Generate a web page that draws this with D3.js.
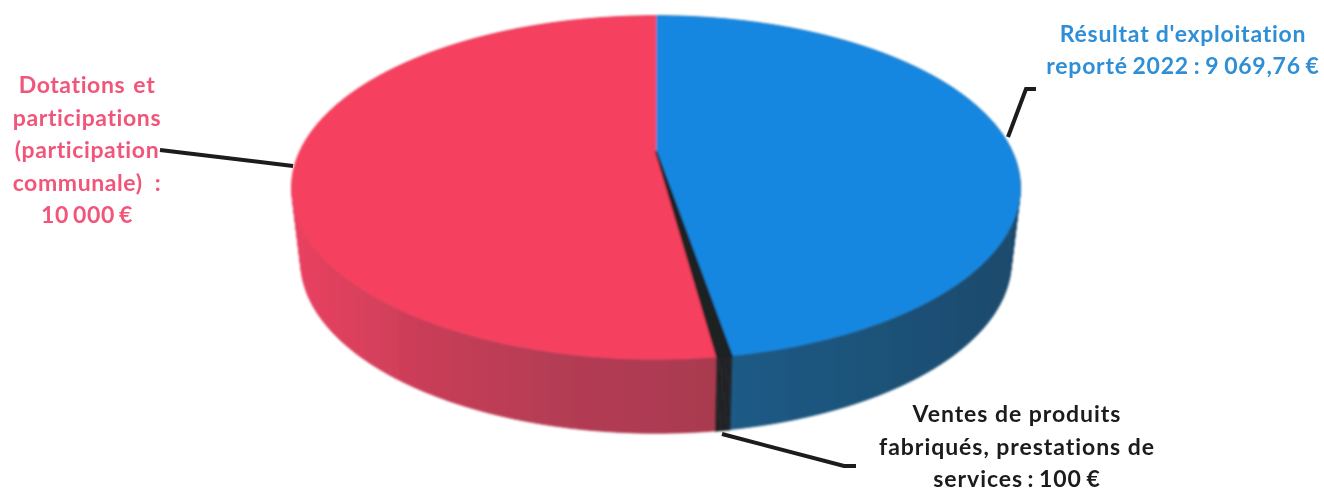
<!DOCTYPE html>
<html lang="fr">
<head>
<meta charset="utf-8">
<script src="https://cdn.jsdelivr.net/npm/d3@7/dist/d3.min.js"></script>
<style>
    html, body { margin: 0; padding: 0; background: #ffffff; overflow: hidden; }
    text { font-family: Lato, "Open Sans", sans-serif; font-weight: 700; text-anchor: middle; }
</style>
</head>
<body>
<svg id="chart" width="1324" height="489"></svg>
<script>
var categories = ["Résultat d'exploitation reporté 2022", "Ventes de produits fabriqués, prestations de services", "Dotations et participations (participation communale)"];
var values = [9069.76, 100, 10000];
var labelLines = [
    ["Résultat d'exploitation", "reporté 2022 : 9 069,76 €"],
    ["Ventes de produits", "fabriqués, prestations de", "services : 100 €"],
    ["Dotations et", "participations", "(participation", "communale) :", "10 000 €"]
];

// Colours, per slice
var topColors = ["#1487e0", "#1e2024", "#f5405f"];
var sideStops = [
    [["0%", "#1c5b86"], ["100%", "#1a4a6c"]],
    [["0%", "#26282c"], ["100%", "#26282c"]],
    [["0%", "#ea405f"], ["15%", "#da405c"], ["30%", "#c93e58"], ["60%", "#b43c54"], ["100%", "#a83a50"]]
];
var sideRange = [[730, 1020], [714, 730], [292, 730]];
var textColors = ["#2f8ed6", "#1a1a1a", "#f2557a"];

// Where the labels and leader lines sit
var labelPos = [
    { x: 1183, y: 42, step: 31.5, size: 23, spacing: 0.75, weight: 700, words: [0, -1.5] },
    { x: 1017, y: 422, step: 32.5, size: 23, spacing: 0.95, weight: 700, words: [0, 0, -2] },
    { x: 87, y: 93, step: 32.5, size: 23, spacing: 0.6, weight: 700, words: [2, 0, 0, 6, -2] }
];
var leaders = [
    [[1008, 137], [1026, 89], [1036, 89]],
    [[722, 434], [844, 466], [856, 466]],
    [[160, 150], [293, 166]]
];

// Perspective of the disc: far edge is squeezed, near edge stretched
var cx = 656, cy = 151, a = 356, b = 164, k = 0.2126, depth = 74, bottomScale = 0.975;

function project(angle, dy, sx) {
    var u = Math.sin(angle), v = -Math.cos(angle), w = 1 - k * v;
    return [cx + (sx || 1) * a * u / w, cy + b * v / w + (dy || 0)];
}

function arcPoints(d, dy, sx) {
    var n = Math.max(4, Math.ceil((d.endAngle - d.startAngle) * 60));
    return d3.range(n + 1).map(function (i) {
        return project(d.startAngle + (d.endAngle - d.startAngle) * i / n, dy, sx);
    });
}

var svg = d3.select("#chart");
var defs = svg.append("defs");
var line = d3.line();

defs.append("filter").attr("id", "soft")
    .append("feGaussianBlur").attr("stdDeviation", 0.6);
defs.append("filter").attr("id", "softer")
    .append("feGaussianBlur").attr("stdDeviation", 0.9);

var pie = d3.pie().sort(null).value(function (d) { return d; });
var slices = pie(values);
// thin black slice goes on top of its neighbours
var drawOrder = [0, 2, 1].map(function (i) { return { slice: slices[i], index: i }; });

sideStops.forEach(function (stops, i) {
    var grad = defs.append("linearGradient")
        .attr("id", "side" + i)
        .attr("gradientUnits", "userSpaceOnUse")
        .attr("x1", sideRange[i][0]).attr("x2", sideRange[i][1])
        .attr("y1", 0).attr("y2", 0);
    stops.forEach(function (s) {
        grad.append("stop").attr("offset", s[0]).attr("stop-color", s[1]);
    });
});

var pieGroup = svg.append("g").attr("filter", "url(#softer)");

// Walls first, one quad per arc step so the outline follows the widest points
pieGroup.selectAll("path.side")
    .data(drawOrder)
    .enter()
    .append("path")
    .attr("class", "side")
    .attr("fill", function (d) { return "url(#side" + d.index + ")"; })
    .attr("stroke", function (d) { return d.index === 1 ? topColors[1] : "url(#side" + d.index + ")"; })
    .attr("stroke-width", function (d) { return d.index === 1 ? 1.5 : 0.8; })
    .attr("d", function (d) {
        var upper = arcPoints(d.slice, 0);
        var lower = arcPoints(d.slice, depth, bottomScale);
        return d3.pairs(d3.range(upper.length)).map(function (p) {
            return line([upper[p[0]], upper[p[1]], lower[p[1]], lower[p[0]]]) + "Z";
        }).join("");
    });

pieGroup.selectAll("path.top")
    .data(drawOrder)
    .enter()
    .append("path")
    .attr("class", "top")
    .attr("fill", function (d) { return topColors[d.index]; })
    .attr("stroke", function (d) { return topColors[d.index]; })
    .attr("stroke-width", function (d) { return d.index === 1 ? 2 : 0.5; })
    .attr("d", function (d) {
        return line([[cx, cy]].concat(arcPoints(d.slice, 0))) + "Z";
    });

// Leader lines
svg.append("g")
    .attr("filter", "url(#soft)")
    .selectAll("path")
    .data(leaders)
    .enter()
    .append("path")
    .attr("fill", "none")
    .attr("stroke", "#1c1c1c")
    .attr("stroke-width", 4)
    .attr("d", function (d) { return line(d); });

// Labels
labelLines.forEach(function (lines, i) {
    var pos = labelPos[i];
    svg.append("g")
        .attr("filter", "url(#soft)")
        .selectAll("text")
        .data(lines)
        .enter()
        .append("text")
        .attr("x", pos.x)
        .attr("y", function (d, j) { return pos.y + j * pos.step; })
        .attr("fill", textColors[i])
        .style("font-size", pos.size + "px")
        .style("font-weight", pos.weight)
        .style("letter-spacing", pos.spacing + "px")
        .style("word-spacing", function (d, j) { return pos.words[j] + "px"; })
        .text(function (d) { return d; });
});
</script>
</body>
</html>
